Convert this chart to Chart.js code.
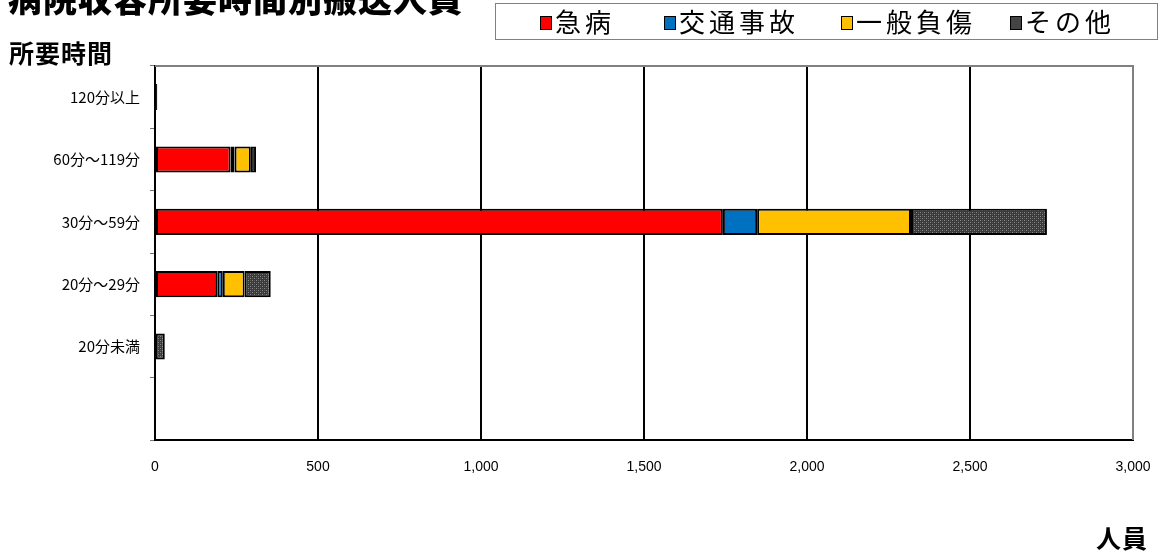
<!DOCTYPE html>
<html>
<head>
<meta charset="utf-8">
<script src="https://cdn.jsdelivr.net/npm/chart.js@4"></script>
<style>
  body { margin: 0; background: #fff; }
  #wrap { position: relative; width: 1173px; height: 556px; overflow: hidden; font-family: "Noto Sans CJK JP", sans-serif; }
  #chart { position: absolute; left: 0; top: 0; }
  .title { position: absolute; left: 8px; top: -27px; font-size: 34px; font-weight: 900; letter-spacing: 1px; white-space: nowrap; }
  .ytitle { position: absolute; left: 9px; top: 34px; font-size: 25px; font-weight: 700; letter-spacing: 1px; }
  .xtitle { position: absolute; left: 1096px; top: 519px; font-size: 25px; font-weight: 700; letter-spacing: 1px; }
  #legend { position: absolute; left: 495px; top: 3px; width: 663px; height: 37px; border: 1px solid #808080; box-sizing: border-box; }
  .item { position: absolute; top: 0px; font-size: 26px; line-height: 34px; letter-spacing: 4px; white-space: nowrap; }
  .sw { display: inline-block; width: 10px; height: 12px; border: 1.5px solid #000; margin-right: 3px; vertical-align: 2px; }
</style>
</head>
<body>
<div id="wrap">
  <canvas id="chart" width="1173" height="556"></canvas>
  <div class="title">病院収容所要時間別搬送人員</div>
  <div class="ytitle">所要時間</div>
  <div class="xtitle">人員</div>
  <div id="legend"></div>
</div>
<script>
// 所要時間区分（上から）
const categories = ['120分以上', '60分～119分', '30分～59分', '20分～29分', '20分未満', ''];
// 事故種別ごとの人員
const kyubyo   = [6, 232, 1742, 191, null, null];
const kotsu    = [null, 12, 105, 17, null, null];
const ippan    = [null, 50, 472, 67, 2, null];
const sonota   = [1, 16, 417, 80, 28, null];
const seriesNames = ['急病', '交通事故', '一般負傷', 'その他'];
const xTicks = [0, 500, 1000, 1500, 2000, 2500, 3000];

// その他の網掛け
function grayPattern() {
    const c = document.createElement('canvas');
    c.width = 4; c.height = 4;
    const g = c.getContext('2d');
    g.fillStyle = '#3a3a3a';
    g.fillRect(0, 0, 4, 4);
    g.fillStyle = '#8a8a8a';
    g.fillRect(0, 0, 1, 1);
    g.fillRect(2, 2, 1, 1);
    g.fillStyle = '#5a5a5a';
    g.fillRect(2, 0, 1, 1);
    g.fillRect(0, 2, 1, 1);
    return g.createPattern(c, 'repeat');
}
const pat = grayPattern();
const fills = ['#ff0000', '#0070c0', '#ffc000', pat];
const values = [kyubyo, kotsu, ippan, sonota];

// legend (html)
const legendPos = [44, 168, 345, 514];
const lg = document.getElementById('legend');
seriesNames.forEach(function(n, i) {
    var d = document.createElement('div');
    d.className = 'item';
    d.style.left = legendPos[i] + 'px';
    var bg = i == 3 ? '#444' : fills[i];
    d.innerHTML = '<span class="sw" style="background:' + bg + '"></span>' + n;
    lg.appendChild(d);
});

const frame = {
    id: 'frame',
    beforeDatasetsDraw: function(chart) {
        const a = chart.chartArea, ctx = chart.ctx;
        ctx.save();
        ctx.strokeStyle = '#808080';
        ctx.lineWidth = 2;
        ctx.beginPath();
        ctx.moveTo(a.left, a.top);
        ctx.lineTo(a.right, a.top);
        ctx.lineTo(a.right, a.bottom);
        ctx.stroke();
        ctx.restore();
    }
};

new Chart(document.getElementById('chart'), {
    type: 'bar',
    data: {
        labels: categories,
        datasets: seriesNames.map(function(n, i) {
            return {
                label: n,
                data: values[i],
                backgroundColor: fills[i],
                borderColor: '#000',
                borderWidth: 2,
                borderSkipped: false,
                categoryPercentage: 0.42,
                barPercentage: 1
            };
        })
    },
    options: {
        indexAxis: 'y',
        responsive: false,
        animation: false,
        layout: { padding: { top: 66, right: 40, left: 0, bottom: 0 } },
        plugins: { legend: { display: false }, tooltip: { enabled: false } },
        scales: {
            x: {
                stacked: true,
                min: 0, max: 3000,
                afterBuildTicks: function(s) { s.ticks = xTicks.map(function(v) { return { value: v }; }); },
                afterFit: function(s) { s.height = 116; },
                grid: {
                    color: function(c) { return (c.tick && (c.tick.value == 0 || c.tick.value == 3000)) ? 'rgba(0,0,0,0)' : '#000'; },
                    lineWidth: 2,
                    drawTicks: false
                },
                border: { color: '#000', width: 2 },
                ticks: {
                    color: '#000',
                    padding: 19,
                    maxRotation: 0,
                    font: { family: "'Liberation Sans', sans-serif", size: 14 },
                    callback: function(v) { return v.toLocaleString('en-US'); }
                }
            },
            y: {
                stacked: true,
                afterFit: function(s) { s.width = 155; },
                grid: { offset: true, drawOnChartArea: false, drawTicks: true, tickLength: 5, color: '#777' },
                border: { color: '#000', width: 2 },
                ticks: {
                    color: '#000',
                    padding: 10,
                    font: { family: 'Noto Sans CJK JP', size: 15 }
                }
            }
        }
    },
    plugins: [frame]
});
</script>
</body>
</html>
